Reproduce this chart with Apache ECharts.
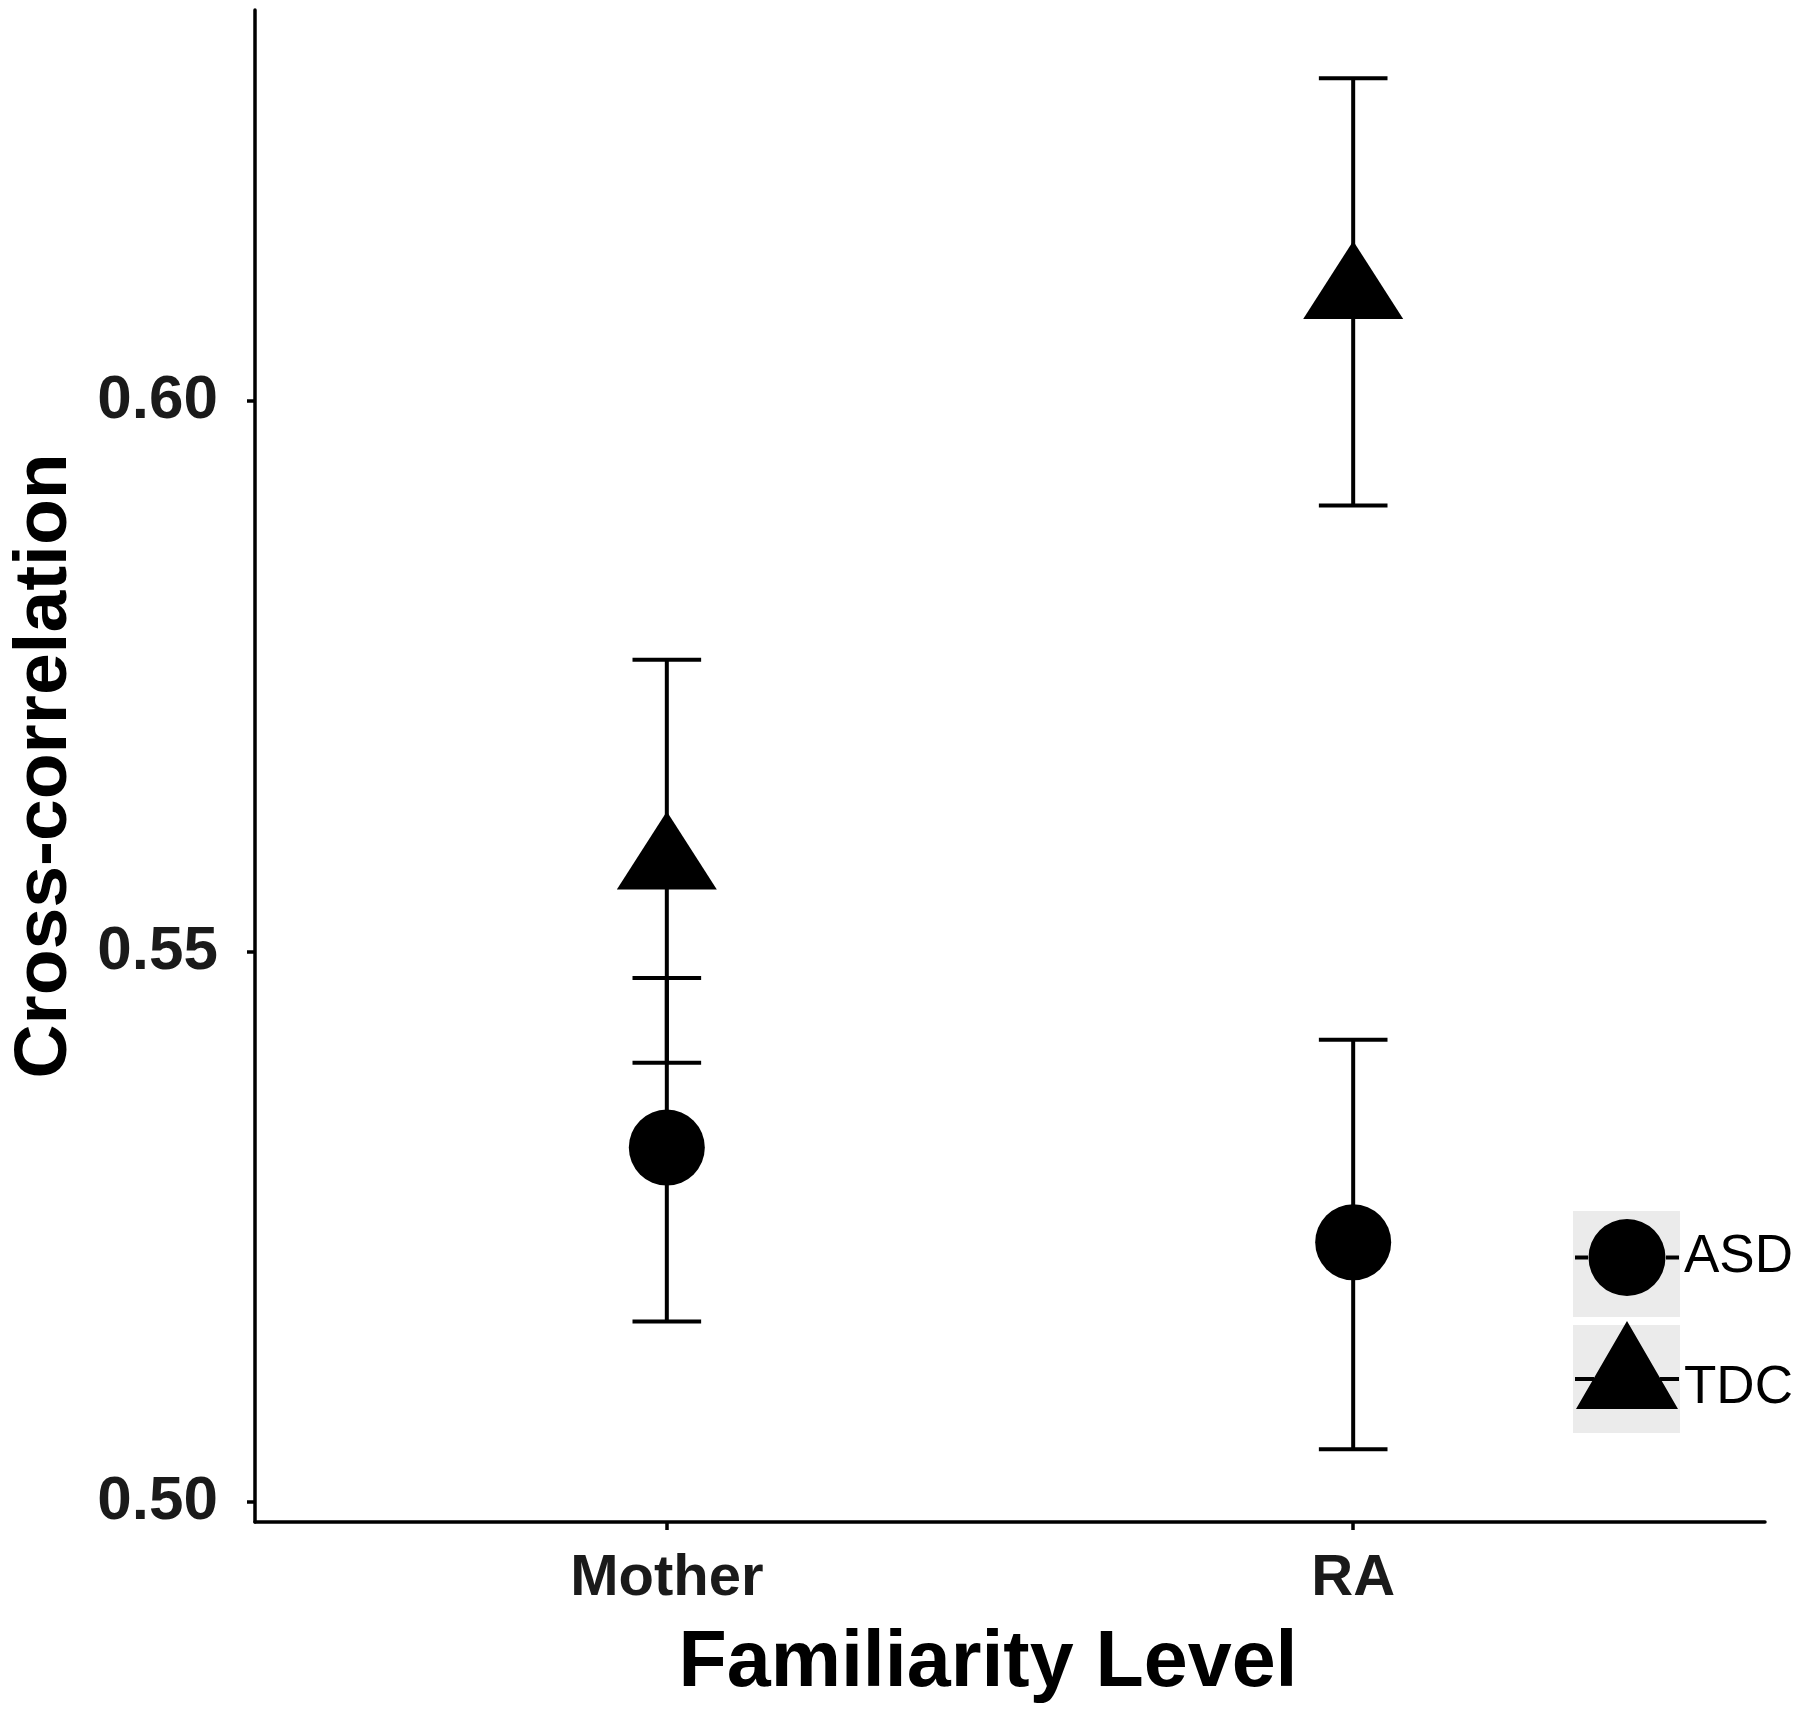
<!DOCTYPE html>
<html>
<head>
<meta charset="utf-8">
<script src="https://cdn.jsdelivr.net/npm/echarts@6/dist/echarts.min.js"></script>
<style>
html,body{margin:0;padding:0;background:#fff;}
#chart{width:1800px;height:1710px;}
</style>
</head>
<body>
<div id="chart"></div>
<script>
// ---- data ----
const categories = ['Mother', 'RA'];
const categoryPos = [1, 2];
const seriesNames = ['ASD', 'TDC'];
const asdMean  = [0.5322, 0.5236];
const asdLower = [0.5164, 0.5048];
const asdUpper = [0.5476, 0.5420];
const tdcMean  = [0.5580, 0.6098];
const tdcLower = [0.5399, 0.5905];
const tdcUpper = [0.5765, 0.6293];
const yTickValues = [0.50, 0.55, 0.60];
const yTickLabels = ['0.50', '0.55', '0.60'];
const xAxisTitle = 'Familiarity Level';
const yAxisTitle = 'Cross-correlation';

const FONT = 'Liberation Sans, Arial, Helvetica, sans-serif';
const capWidth = 0.1;

const chart = echarts.init(document.getElementById('chart'), null, {renderer: 'canvas'});

function errData(lower, upper) {
  return categoryPos.map((x, i) => [x, lower[i], upper[i]]);
}
function ptData(mean) {
  return categoryPos.map((x, i) => [x, mean[i]]);
}
function renderErr(params, api) {
  const x = api.value(0), lo = api.value(1), hi = api.value(2);
  const pHi = api.coord([x, hi]);
  const pLo = api.coord([x, lo]);
  const hw = api.size([capWidth, 0])[0] / 2;
  const st = {stroke: '#000', lineWidth: 4, lineCap: 'butt'};
  return {
    type: 'group',
    children: [
      {type: 'line', shape: {x1: pHi[0], y1: pHi[1], x2: pLo[0], y2: pLo[1]}, style: st},
      {type: 'line', shape: {x1: pHi[0] - hw, y1: pHi[1], x2: pHi[0] + hw, y2: pHi[1]}, style: st},
      {type: 'line', shape: {x1: pLo[0] - hw, y1: pLo[1], x2: pLo[0] + hw, y2: pLo[1]}, style: st}
    ]
  };
}

const circleIcon = 'path://M-38.5,0 A38.5,38.5 0 1 1 38.5,0 A38.5,38.5 0 1 1 -38.5,0 Z M-52,-2 L-39,-2 L-39,2 L-52,2 Z M39,-2 L52,-2 L52,2 L39,2 Z';
const triIcon = 'path://M0,0 L51,88 L-51,88 Z M-52,56 L-33,56 L-33,60 L-52,60 Z M33,56 L52,56 L52,60 L33,60 Z';

const option = {
  backgroundColor: '#ffffff',
  animation: false,
  grid: {left: 244, right: 35, top: 10, bottom: 188, containLabel: false},
  xAxis: {
    type: 'value',
    min: 0.4, max: 2.6,
    name: xAxisTitle,
    nameLocation: 'middle',
    nameGap: 103,
    nameTextStyle: {fontFamily: FONT, fontWeight: 'bold', fontSize: 79, color: '#000', padding: [0, 44, 0, 0]},
    axisLine: {show: true, onZero: false, lineStyle: {color: '#000', width: 3.5}},
    axisTick: {show: true, length: 8, lineStyle: {color: '#000', width: 3.5}, customValues: categoryPos},
    axisLabel: {
      show: true, margin: 28, customValues: categoryPos,
      formatter: v => categories[categoryPos.indexOf(Math.round(v))] || '',
      fontFamily: FONT, fontWeight: 'bold', fontSize: 58, color: '#1a1a1a'
    },
    splitLine: {show: false}
  },
  yAxis: {
    type: 'value',
    min: 0.4982, max: 0.6355,
    name: yAxisTitle,
    nameLocation: 'middle',
    nameGap: 172,
    nameRotate: 90,
    nameTextStyle: {fontFamily: FONT, fontWeight: 'bold', fontSize: 75, color: '#000'},
    axisLine: {show: true, onZero: false, lineStyle: {color: '#000', width: 3.5}},
    axisTick: {show: true, length: 8, lineStyle: {color: '#000', width: 3.5}, customValues: yTickValues},
    axisLabel: {
      show: true, margin: 37, customValues: yTickValues,
      formatter: v => yTickLabels[yTickValues.findIndex(t => Math.abs(t - v) < 1e-6)] || '',
      fontFamily: FONT, fontWeight: 'bold', fontSize: 62, color: '#1a1a1a'
    },
    splitLine: {show: false}
  },
  legend: {
    orient: 'vertical',
    left: 1575, top: 1219,
    padding: 0,
    itemWidth: 104, itemHeight: 88, itemGap: 25,
    symbolKeepAspect: true,
    z: 5,
    formatter: name => name === seriesNames[1] ? '{low|' + name + '}' : name,
    textStyle: {
      fontFamily: FONT, fontSize: 53, color: '#000',
      rich: {low: {fontFamily: FONT, fontSize: 53, color: '#000', padding: [46, 0, 0, 0]}}
    },
    data: [
      {name: seriesNames[0], icon: circleIcon, itemStyle: {color: '#000'}},
      {name: seriesNames[1], icon: triIcon, itemStyle: {color: '#000'}}
    ]
  },
  graphic: [
    {type: 'rect', z: 0, shape: {x: 1573, y: 1211, width: 107, height: 106}, style: {fill: '#ebebeb'}},
    {type: 'rect', z: 0, shape: {x: 1573, y: 1325, width: 107, height: 108}, style: {fill: '#ebebeb'}}
  ],
  series: [
    {
      name: seriesNames[0], type: 'custom', renderItem: renderErr,
      data: errData(asdLower, asdUpper), encode: {x: 0, y: [1, 2]}, z: 2, silent: true
    },
    {
      name: seriesNames[1], type: 'custom', renderItem: renderErr,
      data: errData(tdcLower, tdcUpper), encode: {x: 0, y: [1, 2]}, z: 2, silent: true
    },
    {
      name: seriesNames[0], type: 'scatter', symbol: 'circle', symbolSize: 76,
      itemStyle: {color: '#000', opacity: 1}, data: ptData(asdMean), z: 3
    },
    {
      name: seriesNames[1], type: 'scatter', symbol: 'triangle', symbolSize: [100, 78],
      symbolOffset: [0, -13],
      itemStyle: {color: '#000', opacity: 1}, data: ptData(tdcMean), z: 3
    }
  ]
};
chart.setOption(option);
</script>
</body>
</html>
